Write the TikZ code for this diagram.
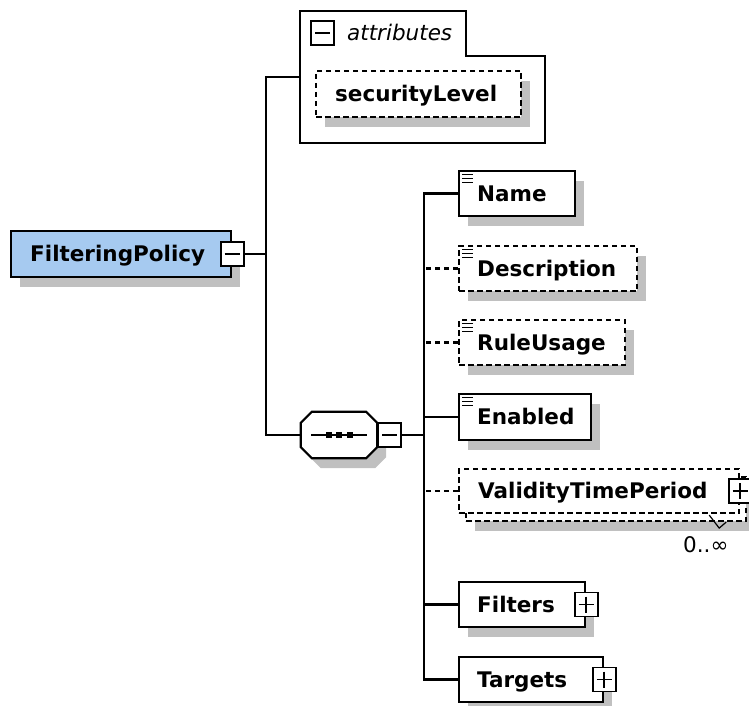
\documentclass[tikz,border=0pt]{standalone}
\usepackage{fontspec}
\setmainfont{DejaVu Sans}
\usetikzlibrary{positioning,shadows}

\definecolor{polblue}{RGB}{166,202,240}
\definecolor{shgray}{RGB}{192,192,192}

\tikzset{
	ln/.style={line width=2.2pt},
	dashline/.style={dash pattern=on 5.5pt off 3.5pt},
	shad/.style={drop shadow={shadow xshift=9pt,shadow yshift=-10pt,fill=shgray,opacity=1}},
	box/.style={draw,ln,fill=white,minimum height=45pt,inner sep=0pt,anchor=west},
	elem/.style={box,shad},
	opt/.style={elem,dashline},
	lbl/.style={font=\bfseries\fontsize{21.5}{24}\selectfont,inner sep=0pt,text height=15.5pt,text depth=0pt},
	tog/.style={draw,line width=1.8pt,fill=white,minimum width=23pt,minimum height=24pt,inner sep=0pt},
	minus/.style={tog,path picture={\draw[line width=1.8pt] ([xshift=4pt]path picture bounding box.west) -- ([xshift=-4pt]path picture bounding box.east);}},
	plus/.style={tog,path picture={\draw[line width=1.8pt] ([xshift=4pt]path picture bounding box.west) -- ([xshift=-4pt]path picture bounding box.east) ([yshift=-4pt]path picture bounding box.north) -- ([yshift=4pt]path picture bounding box.south);}},
	seqbox/.style={minimum width=76pt,minimum height=46pt,inner sep=0pt}
}

\newcommand{\docicon}[1]{\foreach \dy in {4.5,8.5,12.5} \draw[line width=1pt] ([shift={(4,\dy)}]#1.north west) -- ++(11,0);}

\begin{document}
\begin{tikzpicture}[x=1pt,y=-1pt]
	\useasboundingbox (0,0) rectangle (749,706);
	% root
	\node[elem,fill=polblue,minimum width=220pt,minimum height=46pt] (fp) at (10,254) {};
	\node[lbl,right=20pt of fp.west] (fpL) {FilteringPolicy};
	\node[minus] (fpT) at (fp.east) {};
	% attributes
	\draw[ln] (300,11) -- (466,11) -- (466,56) -- (545,56) -- (545,143) -- (300,143) -- cycle;
	\coordinate (attr) at (300,77);
	\node[minus] (attrT) at (322.5,33) {};
	\node[lbl,font=\itshape\fontsize{21.5}{24}\selectfont,anchor=west] (attrL) at (347,33) {attributes};
	\node[opt,minimum width=205pt,minimum height=46pt] (sec) at (315,94) {};
	\node[lbl,right=20pt of sec.west] (secL) {securityLevel};
	% sequence
	\node[seqbox] (seq) at (339,435) {};
	\draw[ln,fill=white,shad] ([xshift=11pt]seq.north west) -- ([xshift=-11pt]seq.north east)
		-- ([yshift=-11pt]seq.north east) -- ([yshift=11pt]seq.south east)
		-- ([xshift=-11pt]seq.south east) -- ([xshift=11pt]seq.south west)
		-- ([yshift=11pt]seq.south west) -- ([yshift=-11pt]seq.north west) -- cycle;
	\draw[ln] ([xshift=-28pt]seq.center) -- ([xshift=28pt]seq.center);
	\foreach \dx in {-10.5,0,10.5}
		\fill ([shift={(\dx-3,-3)}]seq.center) rectangle +(6,6);
	\node[minus,anchor=west] (seqT) at (seq.east) {};
	% children
	\node[elem,minimum width=116pt] (name) at (458,193.5) {};
	\node[lbl,right=19pt of name.west] (nameL) {Name};
	\docicon{name}
	\node[opt,minimum width=178pt] (desc) at (458,268.5) {};
	\node[lbl,right=19pt of desc.west] (descL) {Description};
	\docicon{desc}
	\node[opt,minimum width=166pt] (rule) at (458,342.5) {};
	\node[lbl,right=19pt of rule.west] (ruleL) {RuleUsage};
	\docicon{rule}
	\node[elem,minimum width=132pt,minimum height=46pt] (enabled) at (458,417) {};
	\node[lbl,right=19pt of enabled.west] (enabledL) {Enabled};
	\docicon{enabled}
	\node[opt,minimum width=280pt,minimum height=44pt] (vtpB) at (465,499) {};
	\node[box,dashline,minimum width=280pt,minimum height=44pt] (vtp) at (458,491) {};
	\node[lbl,right=20pt of vtp.west] (vtpL) {ValidityTimePeriod};
	\node[plus] (vtpT) at (vtp.east) {};
	\draw[line width=1.2pt] ([shift={(-31,1)}]vtp.south east) -- ++(10,13) -- ++(7,-6);
	\node[lbl,font=\fontsize{21.5}{24}\selectfont,anchor=west] (vtpM) at (683,545) {0..∞};
	\node[elem,minimum width=126pt] (filters) at (458,604.5) {};
	\node[lbl,right=19pt of filters.west] (filtersL) {Filters};
	\node[plus] (filtersT) at (filters.east) {};
	\node[elem,minimum width=144pt] (targets) at (458,679.5) {};
	\node[lbl,right=19pt of targets.west] (targetsL) {Targets};
	\node[plus] (targetsT) at (targets.east) {};
	% connectors
	\coordinate (j1) at (266,254);
	\coordinate (j2) at (424,435);
	\draw[ln] (fpT.east) -- (j1);
	\draw[ln] (attr) -| (j1) |- (seq.west);
	\draw[ln] (seqT.east) -- (j2);
	\draw[ln] (name.west) -| (j2) |- (targets.west);
	\draw[ln] (enabled.west) -- (enabled.west -| j2);
	\draw[ln] (filters.west) -- (filters.west -| j2);
	\draw[ln,dashline] (desc.west) -- (desc.west -| j2);
	\draw[ln,dashline] (rule.west) -- (rule.west -| j2);
	\draw[ln,dashline] (vtp.west) -- (vtp.west -| j2);
\end{tikzpicture}
\end{document}
